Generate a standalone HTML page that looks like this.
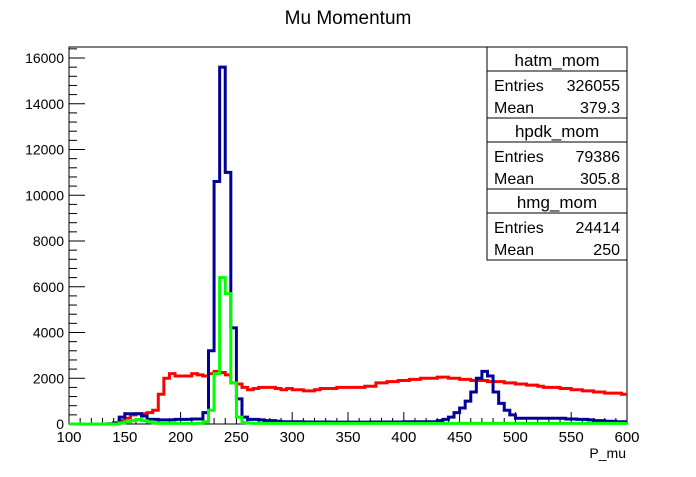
<!DOCTYPE html>
<html><head><meta charset="utf-8"><style>
body{margin:0;background:#fff;font-family:"Liberation Sans",sans-serif}
svg text{font-family:"Liberation Sans",sans-serif}
</style></head><body>
<svg id="c" width="696" height="472">
<text x="348" y="24" font-size="19" text-anchor="middle">Mu Momentum</text>
<rect x="69" y="47" width="558" height="377" fill="none" stroke="#000"/>
<g id="ax"></g><g id="hist"></g>
<text x="626" y="458" font-size="14" text-anchor="end">P_mu</text>
<g id="stats"></g>
</svg>
<script>
const xStart=100, binWidth=5;
const xTicks=[100,150,200,250,300,350,400,450,500,550,600];
const yTicks=[0,2000,4000,6000,8000,10000,12000,14000,16000];
const blueVals=[0,0,0,0,0,0,0,10,50,300,450,450,450,350,200,200,180,180,180,200,200,200,220,220,500,3200,10600,15600,11000,4200,1100,300,200,200,180,150,150,120,100,100,100,100,90,90,90,90,90,80,80,80,80,80,80,80,90,90,90,90,90,90,100,100,100,100,100,100,150,200,300,500,700,1000,1400,2000,2300,2100,1400,900,600,400,250,250,250,250,250,250,250,250,250,220,220,200,200,180,150,150,120,120,100,100];
const greenVals=[0,0,0,0,0,0,0,0,0,50,100,150,200,150,100,50,30,30,30,30,30,30,30,30,100,600,2200,6400,5700,1800,300,60,40,30,30,30,30,30,30,30,30,30,30,30,30,30,30,30,30,30,30,30,30,30,30,30,30,30,30,30,30,30,30,30,30,30,30,30,30,30,30,30,30,30,30,30,30,30,30,30,30,30,30,30,30,30,30,30,30,30,30,30,30,30,30,30,30,30,30,30];
const redVals=[0,0,0,0,0,0,0,0,50,150,250,400,450,450,500,600,1300,2000,2200,2100,2100,2100,2200,2150,2100,2200,2300,2250,2150,1800,1750,1600,1500,1550,1600,1600,1600,1550,1500,1550,1500,1500,1450,1450,1500,1550,1550,1550,1600,1600,1600,1600,1600,1650,1650,1800,1800,1850,1850,1900,1900,1950,1950,2000,2000,2000,2050,2050,2000,2000,1950,1950,1900,1900,1900,1850,1850,1850,1800,1800,1750,1750,1700,1700,1650,1600,1600,1600,1550,1550,1500,1500,1450,1450,1400,1400,1350,1350,1350,1300];
const statsNames=["hatm_mom","hpdk_mom","hmg_mom"];
const statsEntries=["326055","79386","24414"];
const statsMeans=["379.3","305.8","250"];
const NS="http://www.w3.org/2000/svg";
const X=v=>69+(v-100)*558/500, Y=v=>424-v*366/16000;
function mk(t,a,p){const e=document.createElementNS(NS,t);for(const k in a)e.setAttribute(k,a[k]);p.appendChild(e);return e;}
const ax=document.getElementById('ax');
for(let v=100;v<=600;v+=10){const big=v%50==0;const l=mk('line',{x1:X(v),x2:X(v),y1:424,y2:424-(big?12:6),stroke:'#000'},ax);

}
xTicks.forEach(v=>{const t=mk('text',{x:X(v),y:442,'font-size':15,'text-anchor':'middle'},ax);t.textContent=v;

});
for(let v=0;v<=16500;v+=400){if(Y(v)<47)break;const big=v%2000==0;const l=mk('line',{x1:69,x2:69+(big?16:8),y1:Y(v),y2:Y(v),stroke:'#000'},ax);

}
yTicks.forEach(v=>{const t=mk('text',{x:64,y:Y(v)+5,'font-size':14,'text-anchor':'end'},ax);t.textContent=v;

});
const hg=document.getElementById('hist');
function step(vals,color,name){let d='M'+X(xStart)+','+Y(0);vals.forEach((v,i)=>{d+=' L'+X(xStart+i*binWidth)+','+Y(v)+' L'+X(xStart+(i+1)*binWidth)+','+Y(v);});
const p=mk('path',{d:d,fill:'none',stroke:color,'stroke-width':3},hg);

}
step(redVals,'#ff0000','hatm-series');step(blueVals,'#000099','hpdk-series');step(greenVals,'#00ff00','hmg-series');
const sg=document.getElementById('stats');
statsNames.forEach((n,i)=>{const y0=47+i*71;
const b=mk('rect',{x:487,y:y0,width:140,height:71,fill:'#fff',stroke:'#000'},sg);


mk('line',{x1:487,x2:627,y1:y0+24,y2:y0+24,stroke:'#000'},sg);
const t=mk('text',{x:557,y:y0+19,'font-size':17,'text-anchor':'middle'},sg);t.textContent=n;


[['Entries',statsEntries[i],y0+44],['Mean',statsMeans[i],y0+66]].forEach(r=>{
const a=mk('text',{x:494,y:r[2],'font-size':16},sg);a.textContent=r[0];


const c=mk('text',{x:620,y:r[2],'font-size':16,'text-anchor':'end'},sg);c.textContent=r[1];

});});
</script>
</body></html>
